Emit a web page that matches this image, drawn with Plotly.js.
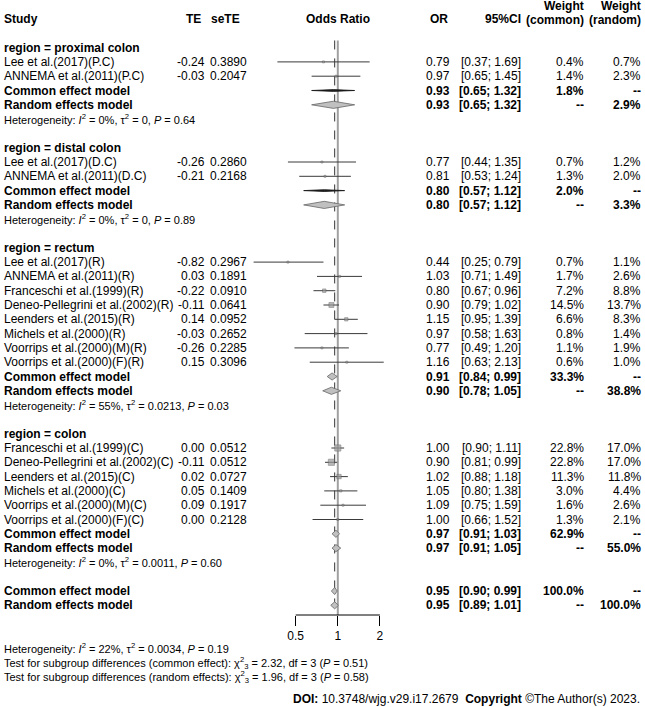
<!DOCTYPE html>
<html><head><meta charset="utf-8">
<script src="https://cdn.plot.ly/plotly-3.0.1.min.js"></script>
<style>html,body{margin:0;padding:0;background:#fff}</style>
</head><body><div id="chart" style="width:645px;height:707px"></div>
<script>
// ---------------- DATA ----------------
const regions = ["proximal colon", "distal colon", "rectum", "colon"];
const regionSizes = [2, 2, 8, 6];
const studyLabels = [
  "Lee et al.(2017)(P.C)", "ANNEMA et al.(2011)(P.C)",
  "Lee et al.(2017)(D.C)", "ANNEMA et al.(2011)(D.C)",
  "Lee et al.(2017)(R)", "ANNEMA et al.(2011)(R)", "Franceschi et al.(1999)(R)",
  "Deneo-Pellegrini et al.(2002)(R)", "Leenders et al.(2015)(R)", "Michels et al.(2000)(R)",
  "Voorrips et al.(2000)(M)(R)", "Voorrips et al.(2000)(F)(R)",
  "Franceschi et al.(1999)(C)", "Deneo-Pellegrini et al.(2002)(C)", "Leenders et al.(2015)(C)",
  "Michels et al.(2000)(C)", "Voorrips et al.(2000)(M)(C)", "Voorrips et al.(2000)(F)(C)"
];
const te = ["-0.24", "-0.03", "-0.26", "-0.21", "-0.82", "0.03", "-0.22", "-0.11", "0.14", "-0.03", "-0.26", "0.15",
  "0.00", "-0.11", "0.02", "0.05", "0.09", "0.00"];
const seTE = ["0.3890", "0.2047", "0.2860", "0.2168", "0.2967", "0.1891", "0.0910", "0.0641", "0.0952", "0.2652", "0.2285", "0.3096",
  "0.0512", "0.0512", "0.0727", "0.1409", "0.1917", "0.2128"];
const orEst = [0.79, 0.97, 0.77, 0.81, 0.44, 1.03, 0.80, 0.90, 1.15, 0.97, 0.77, 1.16, 1.00, 0.90, 1.02, 1.05, 1.09, 1.00];
const ciLow = [0.37, 0.65, 0.44, 0.53, 0.25, 0.71, 0.67, 0.79, 0.95, 0.58, 0.49, 0.63, 0.90, 0.81, 0.88, 0.80, 0.75, 0.66];
const ciHigh = [1.69, 1.45, 1.35, 1.24, 0.79, 1.49, 0.96, 1.02, 1.39, 1.63, 1.20, 2.13, 1.11, 0.99, 1.18, 1.38, 1.59, 1.52];
const weightCommon = [0.4, 1.4, 0.7, 1.3, 0.7, 1.7, 7.2, 14.5, 6.6, 0.8, 1.1, 0.6, 22.8, 22.8, 11.3, 3.0, 1.6, 1.3];
const weightRandom = [0.7, 2.3, 1.2, 2.0, 1.1, 2.6, 8.8, 13.7, 8.3, 1.4, 1.9, 1.0, 17.0, 17.0, 11.8, 4.4, 2.6, 2.1];

const commonEst = [0.93, 0.80, 0.91, 0.97];
const commonLow = [0.65, 0.57, 0.84, 0.91];
const commonHigh = [1.32, 1.12, 0.99, 1.03];
const commonWeight = [1.8, 2.0, 33.3, 62.9];
const randomEst = [0.93, 0.80, 0.90, 0.97];
const randomLow = [0.65, 0.57, 0.78, 0.91];
const randomHigh = [1.32, 1.12, 1.05, 1.05];
const randomWeight = [2.9, 3.3, 38.8, 55.0];
const hetI2 = ["0%", "0%", "55%", "0%"];
const hetTau2 = ["0", "0", "0.0213", "0.0011"];
const hetP = ["0.64", "0.89", "0.03", "0.60"];

const overallLabels = ["Common effect model", "Random effects model"];
const overallEst = [0.95, 0.95];
const overallLow = [0.90, 0.89];
const overallHigh = [0.99, 1.01];
const overallWeightCommon = ["100.0%", "--"];
const overallWeightRandom = ["--", "100.0%"];
const overallHet = {I2: "22%", tau2: "0.0034", P: "0.19"};
const subgroupTests = [
  {label: "common effect", chi2: "2.32", df: "3", P: "0.51"},
  {label: "random effects", chi2: "1.96", df: "3", P: "0.58"}
];
const tickVals = [0.5, 1, 2];
const tickLabels = ["0.5", "1", "2"];
const nullValue = 1;

// ---------------- LAYOUT CONSTANTS ----------------
const W = 645, H = 707;
const ROW0 = 19, ROWH = 14.3;
const FONT = "Liberation Sans, Arial, sans-serif";
const X_STUDY = 3, X_TE = 206, X_SETE = 248, X_OR = 451, X_CI = 522, X_WC = 585, X_WR = 642;
const X_ONE = 337.8, PX_PER_LOG2 = 42.1;
const AXIS_Y_PX = 615;

const px = v => v / W;
const fmt2 = v => v.toFixed(2);
const fmtCI = (l, h) => "[" + fmt2(l) + "; " + fmt2(h) + "]";
const fmtW = v => v.toFixed(1) + "%";

const ann = [];
function txt(x, row, text, anchor, opts) {
  opts = opts || {};
  ann.push({
    xref: "paper", yref: "y", x: px(x), y: row, text: text,
    xanchor: anchor, yanchor: "middle", showarrow: false,
    font: {family: FONT, size: opts.size || 12, color: opts.color || "#000"},
    borderpad: 0
  });
}

// headers
txt(X_STUDY, 0, "<b>Study</b>", "left");
txt(X_TE - 4, 0, "<b>TE</b>", "right");
txt(X_SETE - 7, 0, "<b>seTE</b>", "right");
txt(X_ONE, 0, "<b>Odds Ratio</b>", "center");
txt(X_OR - 2, 0, "<b>OR</b>", "right");
txt(X_CI, 0, "<b>95%CI</b>", "right");
txt(X_WC, -0.9, "<b>Weight</b>", "right");
txt(X_WC, 0.05, "<b>(common)</b>", "right");
txt(X_WR, -0.9, "<b>Weight</b>", "right");
txt(X_WR, 0.05, "<b>(random)</b>", "right");

const traces = [];
const lineX = [], lineY = [], sqX = [], sqY = [], sqS = [];
const diamonds = [];
let row = 2, k = 0;
regions.forEach((reg, g) => {
  txt(X_STUDY, row, "<b>region = " + reg + "</b>", "left");
  row++;
  for (let i = 0; i < regionSizes[g]; i++, k++, row++) {
    txt(X_STUDY, row, studyLabels[k], "left");
    txt(X_TE, row, te[k], "right");
    txt(X_SETE, row, seTE[k], "right");
    txt(X_OR, row, fmt2(orEst[k]), "right");
    txt(X_CI, row, fmtCI(ciLow[k], ciHigh[k]), "right");
    txt(X_WC, row, fmtW(weightCommon[k]), "right");
    txt(X_WR, row, fmtW(weightRandom[k]), "right");
    lineX.push(ciLow[k], ciHigh[k], null); lineY.push(row, row, null);
    sqX.push(orEst[k]); sqY.push(row); sqS.push(Math.max(2, 1.3 * Math.sqrt(weightCommon[k])));
  }
  txt(X_STUDY, row, "<b>Common effect model</b>", "left");
  txt(X_OR, row, "<b>" + fmt2(commonEst[g]) + "</b>", "right");
  txt(X_CI, row, "<b>" + fmtCI(commonLow[g], commonHigh[g]) + "</b>", "right");
  txt(X_WC, row, "<b>" + fmtW(commonWeight[g]) + "</b>", "right");
  txt(X_WR, row, "<b>--</b>", "right");
  diamonds.push({lo: commonLow[g], est: commonEst[g], hi: commonHigh[g], row: row, w: commonWeight[g], type: "common"});
  row++;
  txt(X_STUDY, row, "<b>Random effects model</b>", "left");
  txt(X_OR, row, "<b>" + fmt2(randomEst[g]) + "</b>", "right");
  txt(X_CI, row, "<b>" + fmtCI(randomLow[g], randomHigh[g]) + "</b>", "right");
  txt(X_WC, row, "<b>--</b>", "right");
  txt(X_WR, row, "<b>" + fmtW(randomWeight[g]) + "</b>", "right");
  diamonds.push({lo: randomLow[g], est: randomEst[g], hi: randomHigh[g], row: row, w: randomWeight[g], type: "random"});
  row++;
  txt(X_STUDY, row, "Heterogeneity: <i>I</i><sup>2</sup> = " + hetI2[g] + ", τ<sup>2</sup> = " + hetTau2[g] + ", <i>P</i> = " + hetP[g], "left", {size: 11});
  row += 2;
});
overallLabels.forEach((lab, j) => {
  txt(X_STUDY, row, "<b>" + lab + "</b>", "left");
  txt(X_OR, row, "<b>" + fmt2(overallEst[j]) + "</b>", "right");
  txt(X_CI, row, "<b>" + fmtCI(overallLow[j], overallHigh[j]) + "</b>", "right");
  txt(X_WC, row, "<b>" + overallWeightCommon[j] + "</b>", "right");
  txt(X_WR, row, "<b>" + overallWeightRandom[j] + "</b>", "right");
  diamonds.push({lo: overallLow[j], est: overallEst[j], hi: overallHigh[j], row: row, w: 100, type: j === 0 ? "common" : "random"});
  row++;
});
const lastRow = row - 1;
row += 2;
txt(X_STUDY, row, "Heterogeneity: <i>I</i><sup>2</sup> = " + overallHet.I2 + ", τ<sup>2</sup> = " + overallHet.tau2 + ", <i>P</i> = " + overallHet.P, "left", {size: 11});
row++;
subgroupTests.forEach(t => {
  txt(X_STUDY, row, "Test for subgroup differences (" + t.label + "): χ<sup>2</sup><sub>" + t.df + "</sub> = " + t.chi2 + ", df = " + t.df + " (<i>P</i> = " + t.P + ")", "left", {size: 11});
  row++;
});
txt(641, row + 0.55, "<b>DOI:</b> 10.3748/wjg.v29.i17.2679\u00a0\u00a0<b>Copyright</b> ©The Author(s) 2023.", "right", {size: 12});

// reference lines
const axisRow = (AXIS_Y_PX - ROW0) / ROWH;
traces.push({x: [nullValue, nullValue], y: [1.5, axisRow], mode: "lines", line: {color: "#a0a0a0", width: 2}, hoverinfo: "skip"});
traces.push({x: [overallEst[0], overallEst[0]], y: [1.5, lastRow + 0.5], mode: "lines", line: {color: "#333", width: 1, dash: "dash"}, hoverinfo: "skip"});
// CI lines
traces.push({x: lineX, y: lineY, mode: "lines", line: {color: "#3a3a3a", width: 1}, hoverinfo: "skip"});
// squares
traces.push({x: sqX, y: sqY, mode: "markers", marker: {symbol: "square", size: sqS, color: "#9a9a9a", line: {color: "#555", width: 0.6}}, hoverinfo: "skip"});
// diamonds
diamonds.forEach(d => {
  const h = d.type === "random" ? 0.25 : 0.25 * Math.min(1, Math.sqrt(d.w / 30));
  const thin = h < 0.12;
  traces.push({
    x: [d.lo, d.est, d.hi, d.est, d.lo], y: [d.row, d.row - h, d.row, d.row + h, d.row],
    mode: "lines", fill: "toself", fillcolor: thin ? "#222" : "#c0c0c0",
    line: {color: thin ? "#111" : "#666", width: 0.8}, hoverinfo: "skip"
  });
});
// axis line between first and last tick
traces.push({x: [tickVals[0], tickVals[tickVals.length - 1]], y: [axisRow, axisRow], mode: "lines", line: {color: "#000", width: 1}, hoverinfo: "skip"});

const logLo = Math.log10(Math.pow(2, -X_ONE / PX_PER_LOG2));
const logHi = Math.log10(Math.pow(2, (W - X_ONE) / PX_PER_LOG2));

const layout = {
  width: W, height: H, margin: {l: 0, r: 0, t: 0, b: 0},
  paper_bgcolor: "#fff", plot_bgcolor: "#fff", showlegend: false,
  xaxis: {type: "log", range: [logLo, logHi], fixedrange: true, anchor: "free", position: (H - AXIS_Y_PX) / H,
    showgrid: false, zeroline: false, showline: false, tickmode: "array", tickvals: tickVals, ticktext: tickLabels,
    ticks: "outside", ticklen: 10, tickwidth: 1, tickcolor: "#000", tickfont: {family: FONT, size: 12, color: "#000"}},
  yaxis: {range: [(H - ROW0) / ROWH, -ROW0 / ROWH], visible: false, fixedrange: true, showgrid: false, zeroline: false},
  annotations: ann
};
Plotly.newPlot("chart", traces, layout, {staticPlot: true, displayModeBar: false});
</script></body></html>
